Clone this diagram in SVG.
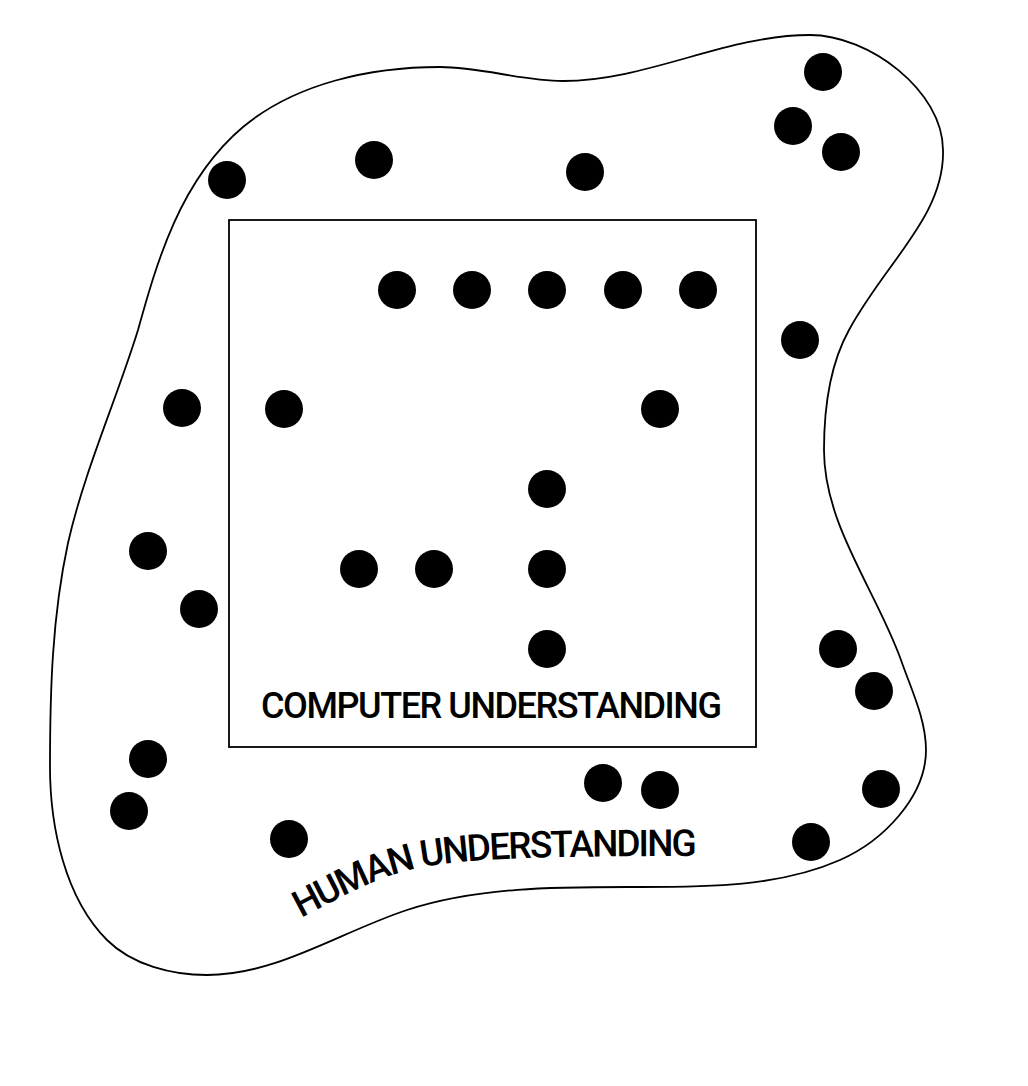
<svg xmlns="http://www.w3.org/2000/svg" xmlns:xlink="http://www.w3.org/1999/xlink" width="1028" height="1086" viewBox="0 0 1028 1086">
<style>
.outline{fill:none;stroke:#000;stroke-width:1.8}
.box{fill:none;stroke:#000;stroke-width:1.8}
.dot{fill:#000}
.lbl{font-family:Roboto,"Liberation Sans",Arial,sans-serif;font-weight:500;fill:#000}
</style>
<defs>
<path id="humanPath" d="M 301,918 C 345,895 385,872 435,865 C 490,858 540,856 720,856"/>
</defs>
<rect width="1028" height="1086" fill="#fff"/>
<g id="human-understanding">
<path class="outline" d="M 810,35 C 869,35 943,91 943,150 C 945,215 886,262 849,330 C 829,366 824,410 824,450 C 824,525 876,590 901,660 C 911,689 926,719 926,750 C 926,797 883,841 840,860 C 779,887 707,887 640,887 C 562,887 481,886 407,910 C 340,932 277,975 207,975 C 172,975 132,965 107,940 C 65,898 50,827 50,767 C 50,692 52,617 68,543 C 84,472 116,401 138,330 C 157,262 180,180 243,127 C 296,83 371,67 440,67 C 481,67 522,81 563,81 C 647,81 726,35 810,35 Z"/>
<text class="lbl" font-size="37"><textPath xlink:href="#humanPath" href="#humanPath" textLength="407" lengthAdjust="spacing">HUMAN UNDERSTANDING</textPath></text>
</g>
<g id="computer-understanding">
<rect class="box" x="229" y="220" width="527" height="527"/>
<text class="lbl" font-size="36" x="261" y="718" textLength="461" lengthAdjust="spacing">COMPUTER UNDERSTANDING</text>
</g>
<g id="dots-outside">
<circle class="dot" cx="227" cy="180" r="19"/>
<circle class="dot" cx="374" cy="160" r="19"/>
<circle class="dot" cx="585" cy="172" r="19"/>
<circle class="dot" cx="823" cy="72" r="19"/>
<circle class="dot" cx="793" cy="126" r="19"/>
<circle class="dot" cx="841" cy="152" r="19"/>
<circle class="dot" cx="800" cy="340" r="19"/>
<circle class="dot" cx="182" cy="408" r="19"/>
<circle class="dot" cx="148" cy="551" r="19"/>
<circle class="dot" cx="199" cy="609" r="19"/>
<circle class="dot" cx="148" cy="759" r="19"/>
<circle class="dot" cx="129" cy="811" r="19"/>
<circle class="dot" cx="289" cy="839" r="19"/>
<circle class="dot" cx="603" cy="783" r="19"/>
<circle class="dot" cx="660" cy="790" r="19"/>
<circle class="dot" cx="838" cy="649" r="19"/>
<circle class="dot" cx="874" cy="691" r="19"/>
<circle class="dot" cx="881" cy="789" r="19"/>
<circle class="dot" cx="811" cy="842" r="19"/>
</g>
<g id="dots-inside">
<circle class="dot" cx="397" cy="290" r="19"/>
<circle class="dot" cx="472" cy="290" r="19"/>
<circle class="dot" cx="547" cy="290" r="19"/>
<circle class="dot" cx="623" cy="290" r="19"/>
<circle class="dot" cx="698" cy="290" r="19"/>
<circle class="dot" cx="284" cy="409" r="19"/>
<circle class="dot" cx="660" cy="409" r="19"/>
<circle class="dot" cx="547" cy="489" r="19"/>
<circle class="dot" cx="359" cy="569" r="19"/>
<circle class="dot" cx="434" cy="569" r="19"/>
<circle class="dot" cx="547" cy="569" r="19"/>
<circle class="dot" cx="547" cy="649" r="19"/>
</g>
</svg>
